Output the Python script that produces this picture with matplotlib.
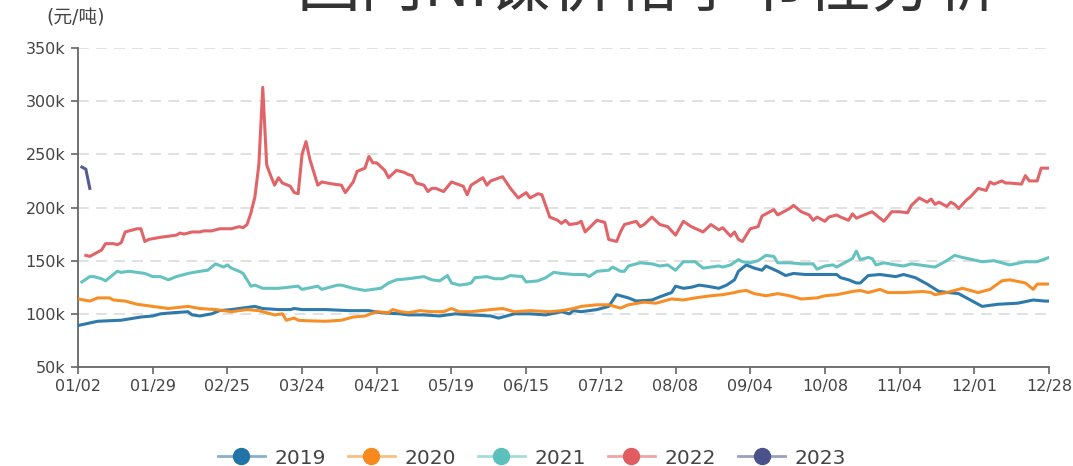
import matplotlib
matplotlib.use("Agg")
import matplotlib.pyplot as plt
from matplotlib.lines import Line2D
import numpy as np

# ---------------- data (values in thousand yuan / ton, x = trading-day index) -------------
tick_labels = ["01/02", "01/29", "02/25", "03/24", "04/21", "05/19", "06/15",
               "07/12", "08/08", "09/04", "10/08", "11/04", "12/01", "12/28"]

x_2019 = [0, 5, 11, 16, 19, 21, 24, 28, 29, 31, 34, 36, 39, 43, 45, 47, 51, 54, 55, 57, 58, 63, 69, 74,
          77, 82, 84, 88, 92, 96, 100, 105, 107, 111, 115, 119, 123, 125, 126, 128, 132, 135, 137, 140,
          142, 146, 148, 151, 152, 154, 156, 158, 160, 163, 165, 167, 168, 170, 172, 174, 175, 178, 180,
          182, 185, 189, 193, 194, 196, 198, 199, 201, 204, 208, 210, 213, 216, 219, 224, 227, 230, 234,
          239, 243, 246, 247]
y_2019 = [89, 93, 94, 97, 98, 100, 101, 102, 99, 98, 100, 103, 104, 106, 107, 105, 104, 104, 105, 104,
          104, 104, 103, 103, 101, 100, 99, 99, 98, 100, 99, 98, 96, 100, 100, 99, 102, 100, 103, 102, 104,
          107, 118, 115, 112, 113, 116, 120, 126, 124, 125, 127, 126, 124, 127, 132, 140, 146, 143, 141,
          145, 140, 136, 138, 137, 137, 137, 134, 132, 129, 129, 136, 137, 135, 137, 134, 128, 121, 119,
          113, 107, 109, 110, 113, 112, 112]

x_2020 = [0, 3, 5, 8, 9, 12, 15, 19, 23, 28, 31, 35, 39, 43, 46, 48, 50, 52, 53, 55, 56, 58, 63, 67, 70,
          73, 76, 79, 80, 82, 84, 87, 90, 93, 95, 97, 100, 105, 108, 111, 115, 120, 123, 126, 128, 132,
          135, 138, 140, 144, 147, 151, 154, 157, 161, 164, 167, 168, 170, 172, 175, 178, 181, 184, 188,
          190, 193, 197, 199, 201, 204, 206, 210, 215, 217, 218, 221, 225, 229, 232, 235, 237, 241, 243,
          244, 247]
y_2020 = [114, 112, 115, 115, 113, 112, 109, 107, 105, 107, 105, 104, 102, 104, 103, 101, 99, 100, 94,
          96, 94, 93.5, 93, 94, 97, 98, 102, 101, 104, 102, 101, 103, 102, 102, 105, 102, 102, 104, 105,
          102, 103, 102, 103, 105, 107, 108.5, 108.5, 105.4, 108.5, 111, 110, 114, 113, 115, 117, 118,
          120, 121, 122, 119, 117, 119, 117, 114, 115, 117, 118, 121, 122, 120, 123, 120, 120, 121, 120,
          118, 120, 124, 120, 123, 131, 132, 129, 123, 128, 128]

x_2021 = [1, 3, 4, 6, 7, 9, 10, 11, 13, 15, 17, 19, 21, 23, 25, 28, 31, 33, 35, 37, 38, 39, 41, 42, 43,
          44, 45, 47, 51, 56, 57, 61, 62, 66, 67, 70, 73, 77, 79, 81, 84, 86, 88, 90, 92, 94, 95, 97, 99,
          100, 101, 104, 106, 108, 110, 113, 114, 117, 119, 121, 123, 126, 129, 130, 132, 135, 136, 138,
          139, 140, 143, 146, 148, 150, 152, 154, 157, 159, 163, 164, 166, 168, 169, 171, 173, 175, 177,
          178, 181, 184, 187, 188, 190, 192, 193, 196, 197, 198, 199, 201, 202, 203, 205, 208, 210, 212,
          218, 221, 223, 225, 230, 233, 237, 241, 244, 247]
y_2021 = [130, 135, 135, 133, 131, 137, 140, 139, 140, 139, 138, 135, 135, 132, 135, 138, 140, 141, 147,
          144, 146, 143, 140, 138, 132, 126, 127, 124, 124, 126, 123, 126, 123, 127, 127, 124, 122, 124,
          129, 132, 133, 134, 135, 132, 131, 136, 129, 127, 128, 129, 134, 135, 133, 133, 136, 135, 130,
          131, 134, 139, 138, 137, 137, 135, 140, 141, 144, 140, 140, 145, 148, 147, 145, 146, 141, 149,
          149, 143, 145, 144, 146, 151, 149, 148, 150, 155, 154, 148, 148, 147, 147, 142, 145, 146, 144,
          150, 152, 159, 151, 153, 152, 146, 148, 146, 145, 147, 144, 150, 155, 153, 149, 150, 146, 149,
          149, 153]

x_2022 = [2, 3, 4, 6, 7, 9, 10, 11, 12, 14, 15, 16, 17, 18, 21, 25, 26, 27, 29, 31, 32, 34, 36, 39, 41,
          42, 43, 44, 45, 46, 47, 48, 49, 50, 51, 52, 54, 55, 56, 57, 58, 59, 60, 61, 62, 65, 67, 68, 70,
          71, 73, 74, 75, 76, 78, 79, 81, 83, 84, 85, 86, 88, 89, 90, 91, 93, 95, 98, 99, 100, 103, 104,
          105, 108, 110, 112, 114, 115, 117, 118, 120, 122, 123, 124, 125, 127, 128, 129, 132, 134, 135,
          137, 138, 139, 142, 143, 144, 146, 148, 150, 152, 154, 156, 159, 161, 163, 164, 166, 167, 168,
          169, 171, 173, 174, 176, 177, 178, 181, 182, 184, 186, 187, 188, 190, 191, 193, 194, 196, 197,
          198, 200, 202, 204, 205, 207, 209, 211, 212, 214, 216, 217, 218, 219, 221, 222, 223, 224, 226,
          227, 228, 229, 231, 232, 233, 235, 236, 237, 240, 241, 242, 244, 245, 247]
y_2022 = [155, 154, 156, 160, 166, 166, 165, 167, 177, 179, 180, 180, 168, 170, 172, 174, 176, 175, 177,
          177, 178, 178, 180, 180, 182, 181, 184, 195, 210, 240, 313, 240, 230, 221, 228, 223, 220, 214,
          213, 250, 262, 245, 233, 221, 224, 222, 221, 214, 224, 234, 237, 248, 242, 242, 235, 228, 235,
          233, 231, 230, 223, 221, 215, 218, 218, 215, 224, 220, 212, 221, 228, 221, 225, 229, 218, 209,
          214, 209, 213, 212, 191, 188, 185, 188, 184, 185, 187, 177, 188, 186, 170, 168, 177, 184, 187,
          182, 184, 191, 184, 182, 174, 187, 182, 177, 184, 179, 181, 173, 177, 170, 168, 180, 182, 192,
          196, 198, 193, 199, 202, 196, 193, 188, 191, 187, 191, 193, 191, 188, 194, 190, 193, 196, 190,
          187, 196, 196, 195, 202, 209, 205, 208, 203, 205, 201, 205, 203, 199, 207, 210, 214, 218, 216,
          224, 222, 225, 223, 223, 222, 230, 225, 225, 237, 237]

x_2023 = [1, 2, 3]
y_2023 = [238, 236, 218]

years = ["2019", "2020", "2021", "2022", "2023"]
colors = ["#2273a6", "#f7891d", "#5cc0bd", "#e05c60", "#4a528c"]
series_x = [x_2019, x_2020, x_2021, x_2022, x_2023]
series_y = [y_2019, y_2020, y_2021, y_2022, y_2023]

y_ticks = [50, 100, 150, 200, 250, 300, 350]

# ---------------- figure ----------------
plt.rcParams['font.family'] = ['DejaVu Sans', 'Noto Sans CJK SC']
fig = plt.figure(figsize=(10.73, 4.66), dpi=100)
ax = fig.add_axes([78 / 1073, 1 - 367 / 466, (1049 - 78) / 1073, (367 - 48) / 466])

for xs, ys, c in zip(series_x, series_y, colors):
    ax.plot(xs, ys, color=c, lw=2.2, alpha=0.95, solid_joinstyle='round', zorder=3)

n_days = 13 * 19
ax.set_xlim(0, n_days)
ax.set_ylim(50, 350)
ax.set_xticks(np.arange(0, n_days + 1, 19))
ax.set_xticklabels(tick_labels)
ax.set_yticks(y_ticks)
ax.set_yticklabels([f"{v}k" for v in y_ticks])

for v in y_ticks[1:]:
    ax.axhline(v, color="#dedede", lw=1.3, dashes=(6, 4), zorder=1)

for s in ["top", "right"]:
    ax.spines[s].set_visible(False)
for s in ["left", "bottom"]:
    ax.spines[s].set_color("#666666")
    ax.spines[s].set_linewidth(1.3)
ax.tick_params(axis='both', colors="#666666", length=5, width=1.2, labelcolor="#444444",
               labelsize=11.5)
ax.tick_params(axis='x', pad=4)
ax.tick_params(axis='y', pad=4)

fig.text(76 / 1073, 1 - 18 / 466, "(元/吨)", ha="center", va="center", fontsize=13.5,
         color="#444444")

fig.text(648 / 1073, 1 - 5 / 466, "国内Ni镍价格季节性分析", ha="center", va="baseline",
         fontsize=46, color="#333333", family=['Noto Sans CJK SC', 'DejaVu Sans'])

handles = []
for c in colors:
    rgba = matplotlib.colors.to_rgba(c, 0.55)
    handles.append(Line2D([0], [0], color=rgba, lw=2, marker='o', markersize=11.5,
                          markerfacecolor=c, markeredgecolor=c))
fig.legend(handles, years, loc="center", bbox_to_anchor=(0.496, 1 - 458 / 466), ncol=5,
           frameon=False, fontsize=14.5, handlelength=2.3, handletextpad=0.5,
           columnspacing=1.1, labelcolor="#444444")

fig.savefig("out.png", dpi=100)
